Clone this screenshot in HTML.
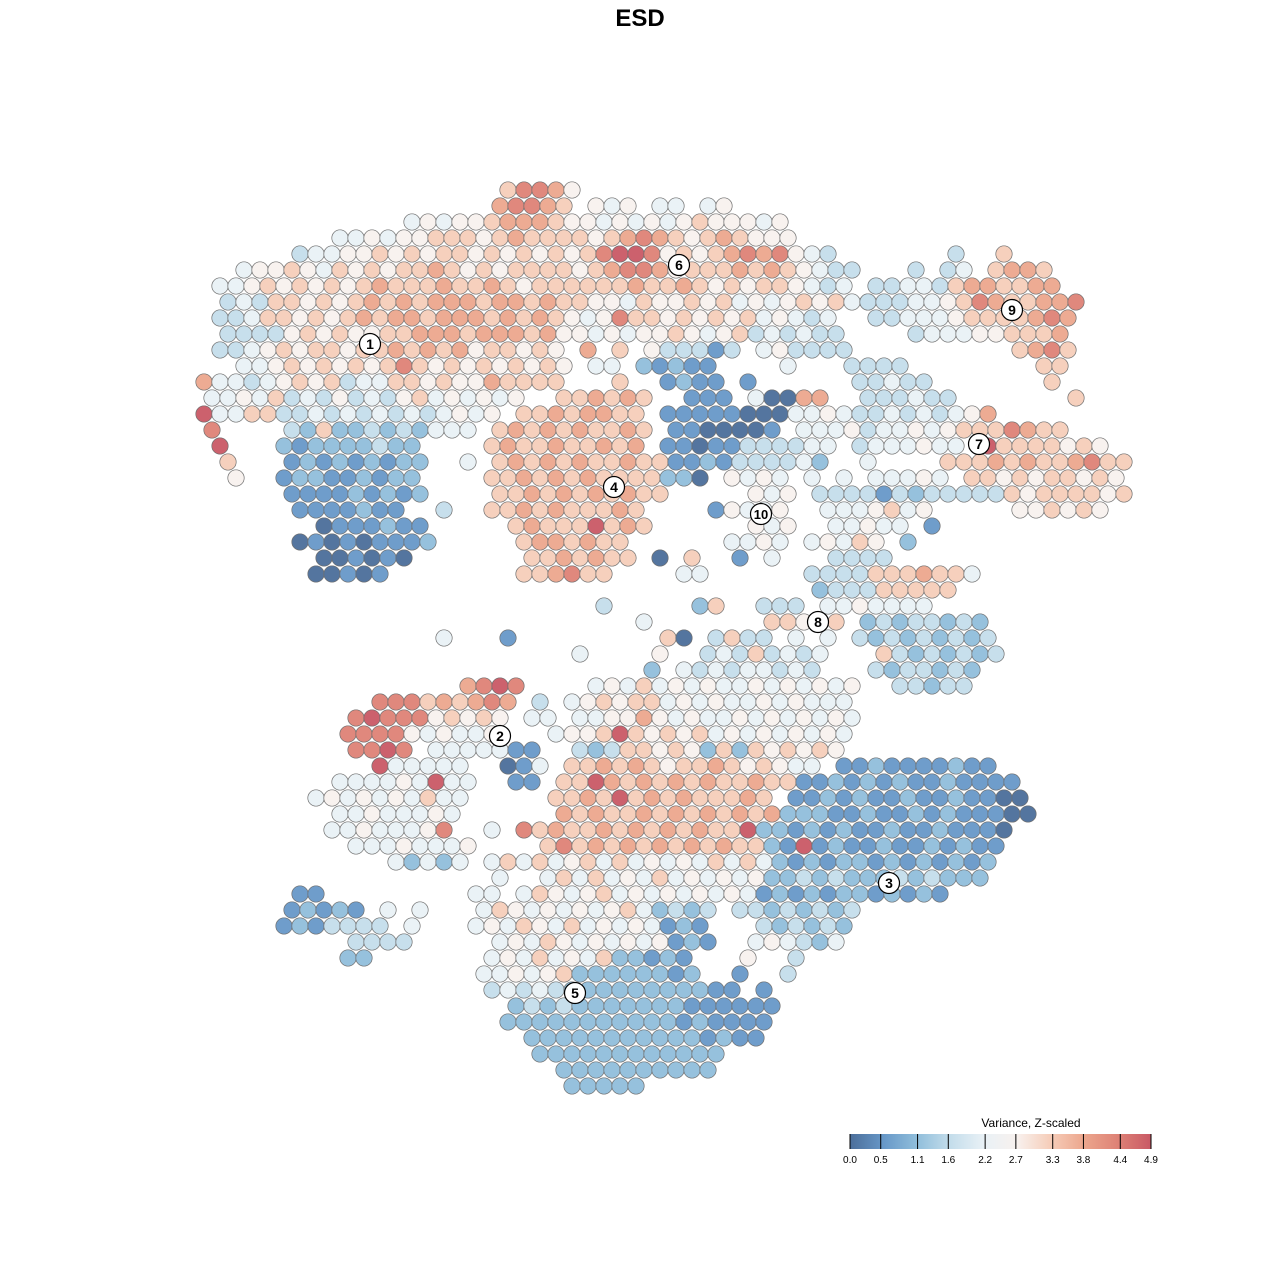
<!DOCTYPE html>
<html><head><meta charset="utf-8">
<style>
html,body{margin:0;padding:0;background:#fff;}
svg{display:block;font-family:"Liberation Sans",sans-serif;}
</style></head>
<body>
<svg id="chart" width="1280" height="1280" viewBox="0 0 1280 1280">
<text x="640" y="26" text-anchor="middle" font-size="24" font-weight="bold">ESD</text>
<g id="points"></g>
<g id="labels"></g>
<g id="legend"></g>
</svg>
<script>
// Data: [row, startCol, levels] — each char is a point's variance level (0-9), '.' = empty
const pointRows = [
[0,19,"68875"],
[1,18,"78876"],[1,24,"545.44.45"],
[2,13,"454556777655454545655545"],
[3,8,"44545566656766665678765676555"],
[4,6,"3445565656656565656899856567878543"],[4,47,"3"],[4,50,"6"],
[5,2,"455654656566765656666567887566676765433"],[5,44,"3.34.6776"],
[6,1,"4456565656766676676566666676676565665434"],[6,42,"334436776677"],
[7,1,"34366565676767776776766554655656454565645"],[7,41,"33344568766778"],
[8,1,"334665656767767776767654586656565645434"],[8,42,"3344456666787"],
[9,1,"333356565566777677767554545565456343433"],[9,44,"3444556667"],
[10,1,"3345656656676767566565.7.6.533313.453333"],[10,51,"6786"],
[11,2,"445656565686565656565.44.21211....4"],[11,40,"3333"],[11,52,"66"],
[12,0,"74434565634466565576666"],[12,26,"6"],[12,29,"1211"],[12,34,"1"],[12,41,"33433"],[12,53,"6"],
[13,0,"44546343534356454545"],[13,22,"667676"],[13,30,"111"],[13,34,"40077"],[13,41,"333433"],[13,54,"6"],
[14,0,"9446633434343434545"],[14,20,"66767766"],[14,29,"11111000"],[14,37,"4454"],[14,41,"33434345"],[14,49,"7"],
[15,0,"8"],[15,5,"326223232444"],[15,18,"6767676676"],[15,29,"1100001"],[15,37,"4445"],[15,41,"344545666"],[15,50,"8766"],
[16,1,"9"],[16,5,"212222322"],[16,18,"6766766767"],[16,29,"110113333"],[16,38,"44"],[16,41,"3"],[16,42,"444544"],[16,49,"96666565"],
[17,1,"6"],[17,5,"121212122"],[17,16,"4"],[17,18,"67676766766"],[17,29,"112133334"],[17,38,"2"],[17,41,"4"],[17,46,"666767667866"],
[18,2,"5"],[18,5,"122112122"],[18,18,"66767676666"],[18,29,"220"],[18,33,"5454"],[18,38,"4"],[18,40,"4"],[18,42,"44454"],[18,48,"6656566565"],
[19,5,"111121212"],[19,18,"66767676766"],[19,34,"545"],[19,38,"333313233333"],[19,50,"65666656"],
[20,6,"1111211"],[20,15,"3"],[20,18,"6676766676"],[20,32,"15445"],[20,39,"4445645"],[20,51,"556565"],
[21,7,"0111211"],[21,19,"676669676"],[21,34,"545"],[21,39,"44544"],[21,45,"1"],
[22,6,"010101112"],[22,20,"6776766"],[22,33,"4454"],[22,38,"45465"],[22,44,"2"],
[23,7,"001010"],[23,20,"6676766"],[23,28,"0"],[23,30,"6"],[23,33,"1"],[23,35,"4"],[23,39,"3333"],
[24,7,"00101"],[24,20,"667866"],[24,30,"44"],[24,38,"3333666766"],[24,48,"4"],
[25,38,"233366666"],
[26,25,"3"],[26,31,"26"],[26,35,"333"],[26,39,"4454444"],
[27,27,"4"],[27,35,"66546"],[27,41,"23233232"],
[28,15,"4"],[28,19,"1"],[28,29,"60"],[28,32,"3633"],[28,37,"4"],[28,39,"4"],[28,41,"323232323"],
[29,23,"4"],[29,28,"5"],[29,31,"34363434"],[29,42,"63232323"],
[30,28,"2"],[30,30,"434344343"],[30,42,"3233232"],
[31,16,"7898"],[31,24,"45464545445454545"],[31,43,"33233"],
[32,11,"888676787"],[32,21,"3"],[32,23,"456566454544545444"],
[33,9,"8988856565"],[33,20,"44"],[33,23,"445575454454545454"],
[34,9,"8888545445"],[34,22,"4556965656454545454"],
[35,9,"8898"],[35,14,"4444411"],[35,23,"323"],[35,26,"66565262656565"],
[36,11,"944444"],[36,19,"014"],[36,23,"66767656676565"],[36,37,"44"],[36,40,"1121111211"],
[37,8,"444454944"],[37,19,"11"],[37,22,"669767676766766"],[37,37,"11212121121111"],
[38,7,"4545454644"],[38,22,"66769676766676"],[38,37,"112121121121100"],
[39,8,"44544454"],[39,22,"76766767676767"],[39,36,"2221121121211100"],
[40,8,"44544458"],[40,18,"4"],[40,20,"867667676767669"],[40,35,"2212121121121110"],
[41,9,"44454445"],[41,21,"68676767676766"],[41,35,"219121121121211"],
[42,12,"42424"],[42,18,"464645646454546464"],[42,36,"21212212121212"],
[43,18,"4"],[43,21,"46464546454545"],[43,35,"22323222323222"],
[44,6,"11"],[44,17,"44"],[44,20,"465456454545454"],[44,35,"121212212121"],
[45,5,"12121"],[45,11,"4"],[45,13,"4"],[45,17,"46545454564"],[45,28,"2323"],[45,33,"33232323"],
[46,5,"1213333"],[46,13,"4"],[46,17,"454654645454"],[46,29,"121"],[46,35,"323232"],
[47,9,"3333"],[47,18,"45465454545"],[47,29,"121"],[47,34,"454324"],
[48,9,"22"],[48,18,"4546454622121"],[48,34,"5"],[48,37,"3"],
[49,17,"4"],[49,18,"4545622222212"],[49,33,"1"],[49,36,"3"],
[50,18,"3434322222222211"],[50,35,"1"],
[51,19,"23232222222111111"],
[52,19,"22222222222121111"],
[53,20,"222222222221211"],
[54,21,"222222222222"],
[55,22,"2222222222"],
[56,23,"22222"]
];
const levelValues = [0.0,0.5,1.1,1.6,2.2,2.7,3.3,3.8,4.4,4.9];
const levelColors = ["#4b6e9a","#6798c8","#90bedb","#c4ddeb","#e9f1f6","#f8f1ee","#f6cdb9","#eca68d","#de8276","#c95965"];
const clusterIds = ["1","2","3","4","5","6","7","8","9","10"];
const clusterX = [370,500,889,614,575,679,979,818,1012,761];
const clusterY = [344,736,883,487,993,265,444,622,310,514];
const tickLabels = ["0.0","0.5","1.1","1.6","2.2","2.7","3.3","3.8","4.4","4.9"];

const NS="http://www.w3.org/2000/svg";
function xScale(col,row){return 204+16*col+(row%2?8:0);}
function yScale(row){return 190+16*row;}
function colorScale(v){let i=0;for(let k=0;k<levelValues.length;k++){if(v>=levelValues[k]-1e-9)i=k;}return levelColors[i];}

const pg=document.getElementById('points');
pointRows.forEach(([r,c0,s])=>{
  for(let i=0;i<s.length;i++){
    const ch=s[i]; if(ch==='.')continue;
    const v=levelValues[+ch];
    const c=document.createElementNS(NS,'circle');
    c.setAttribute('cx',xScale(c0+i,r));
    c.setAttribute('cy',yScale(r));
    c.setAttribute('r',8.2);
    c.setAttribute('fill',colorScale(v));
    c.setAttribute('stroke','#6f6f6f');
    c.setAttribute('stroke-width','0.7');
    c.setAttribute('fill-opacity','0.95');
    
    
    pg.appendChild(c);
  }
});

const lg=document.getElementById('labels');
clusterIds.forEach((id,i)=>{
  const g=document.createElementNS(NS,'g');
  
  
  const c=document.createElementNS(NS,'circle');
  c.setAttribute('cx',clusterX[i]);c.setAttribute('cy',clusterY[i]);c.setAttribute('r',10.5);
  c.setAttribute('fill','#fff');c.setAttribute('stroke','#000');c.setAttribute('stroke-width','1.2');
  const t=document.createElementNS(NS,'text');
  t.setAttribute('x',clusterX[i]);t.setAttribute('y',clusterY[i]+5);
  t.setAttribute('text-anchor','middle');t.setAttribute('font-size',id.length>1?'13':'14');t.setAttribute('font-weight','bold');
  t.textContent=id;
  g.appendChild(c);g.appendChild(t);lg.appendChild(g);
});

// legend
const L=document.getElementById('legend');
const bx0=850,bx1=1151,by=1134,bh=15;
function lx(v){return bx0+(bx1-bx0)*v/4.9;}
const defs=document.createElementNS(NS,'defs');
const grad=document.createElementNS(NS,'linearGradient');
grad.setAttribute('id','lgGrad');
levelColors.forEach((col,i)=>{const st=document.createElementNS(NS,'stop');st.setAttribute('offset',(i/(levelColors.length-1)*100)+'%');st.setAttribute('stop-color',col);grad.appendChild(st);});
defs.appendChild(grad);L.appendChild(defs);
const rect=document.createElementNS(NS,'rect');
rect.setAttribute('x',bx0);rect.setAttribute('y',by);rect.setAttribute('width',bx1-bx0);rect.setAttribute('height',bh);rect.setAttribute('fill','url(#lgGrad)');


L.appendChild(rect);
const lt=document.createElementNS(NS,'text');
lt.setAttribute('x',1031);lt.setAttribute('y',1127);lt.setAttribute('text-anchor','middle');lt.setAttribute('font-size','12');lt.textContent='Variance, Z-scaled';


L.appendChild(lt);
tickLabels.forEach((lab,i)=>{
  const x=lx(parseFloat(lab));
  const ln=document.createElementNS(NS,'line');
  ln.setAttribute('x1',x);ln.setAttribute('x2',x);ln.setAttribute('y1',by);ln.setAttribute('y2',by+bh);ln.setAttribute('stroke','#000');ln.setAttribute('stroke-width','1');
  
  
  L.appendChild(ln);
  const t=document.createElementNS(NS,'text');
  t.setAttribute('x',x);t.setAttribute('y',1163);t.setAttribute('text-anchor','middle');t.setAttribute('font-size','10');t.textContent=lab;
  
  
  L.appendChild(t);
});
</script>
</body></html>
